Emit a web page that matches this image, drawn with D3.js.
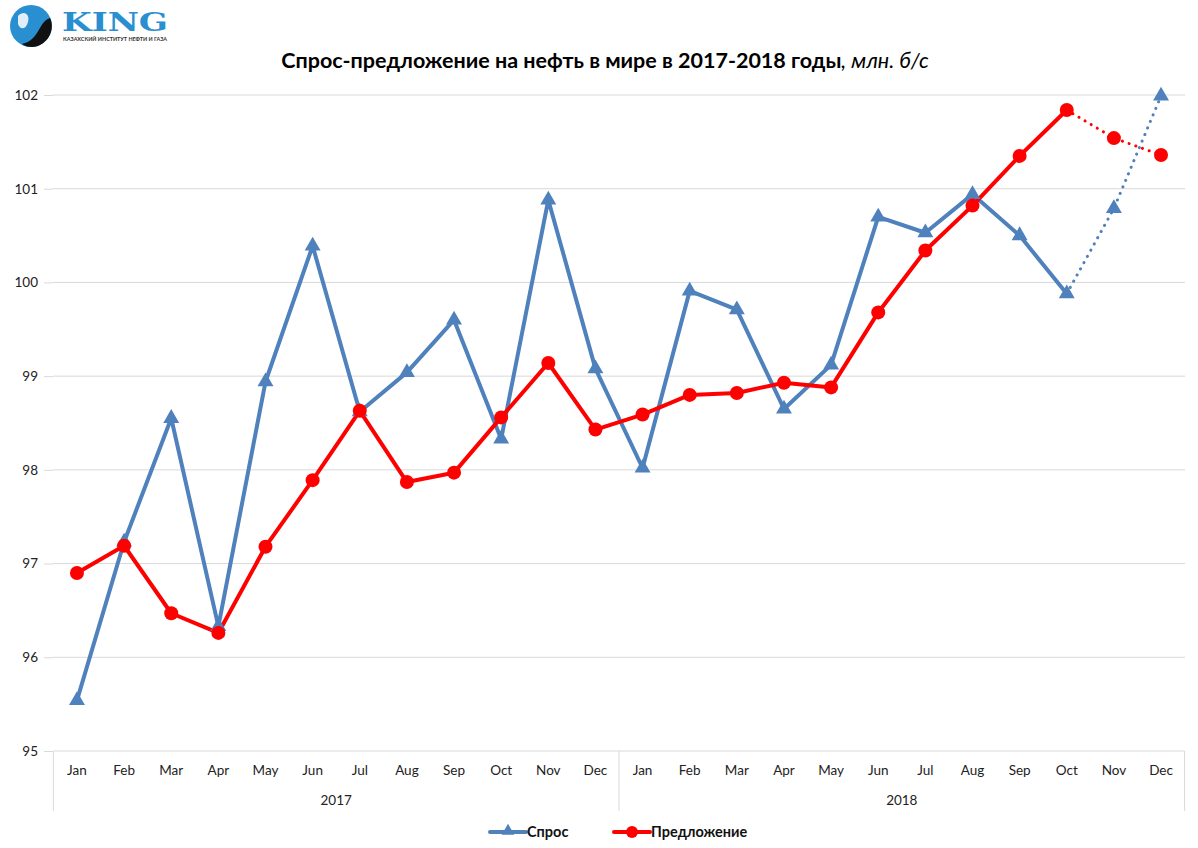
<!DOCTYPE html>
<html><head><meta charset="utf-8">
<script src="https://cdn.jsdelivr.net/npm/d3@7"></script>
<style>body{margin:0;background:#fff}svg{display:block;font-family:Lato,"Open Sans",sans-serif}</style>
</head><body>
<svg id="c" width="1198" height="848"></svg>
<script>
const months = ["Jan","Feb","Mar","Apr","May","Jun","Jul","Aug","Sep","Oct","Nov","Dec"];
const years = ["2017","2018"];
const demand = [95.54,97.23,98.55,96.33,98.94,100.39,98.62,99.04,99.60,98.33,100.88,99.08,
                98.02,99.91,99.71,98.65,99.12,100.70,100.53,100.94,100.50,99.88,100.79,101.99];
const supply = [96.90,97.19,96.47,96.26,97.18,97.89,98.63,97.87,97.97,98.56,99.14,98.43,
                98.59,98.80,98.82,98.93,98.88,99.68,100.34,100.82,101.35,101.84,101.54,101.36];
const forecastStart = 21; // Oct 2018 onward drawn dotted
const yTicks = [95,96,97,98,99,100,101,102];
const seriesNames = ["Спрос","Предложение"];

const svg = d3.select("#c");
const cats = [];
years.forEach(yr => months.forEach(m => cats.push(yr + "-" + m)));
const x = d3.scaleBand().domain(cats).range([53.4, 1184.6]);
const y = d3.scaleLinear().domain([95,102]).range([751,95]);
const cx = i => x(cats[i]) + x.bandwidth()/2;
const blue = "#4f81bd", red = "#ff0000";

// gridlines
svg.append("g").selectAll("line").data(yTicks.filter(t=>t>95)).join("line")
  .attr("x1",53).attr("x2",1185).attr("y1",d=>y(d)).attr("y2",d=>y(d))
  .attr("stroke","#d9d9d9").attr("stroke-width",1);
// y axis
const ya = svg.append("g").attr("transform","translate(53,0)")
  .call(d3.axisLeft(y).tickValues(yTicks).tickFormat(d3.format("d")).tickSize(9).tickPadding(6));
ya.select(".domain").remove();
ya.selectAll(".tick line").attr("stroke","#d9d9d9");
ya.selectAll(".tick text").attr("font-size",13.5).attr("fill","#222").attr("font-family","Lato,sans-serif");

// x axis
const xa = svg.append("g").attr("transform","translate(0,751)")
  .call(d3.axisBottom(x).tickSize(0).tickPadding(14).tickFormat(d=>d.split("-")[1]));
xa.select(".domain").attr("stroke","#d9d9d9").attr("d","M53.4,0H1184.6");
xa.selectAll(".tick text").attr("font-size",13.5).attr("fill","#222").attr("font-family","Lato,sans-serif");
// group dividers
const bounds = [0,12,24].map(i => i<24 ? x(cats[i]) : x(cats[23]) + x.bandwidth());
svg.append("g").selectAll("line").data(bounds).join("line")
  .attr("x1",d=>d).attr("x2",d=>d).attr("y1",751).attr("y2",811)
  .attr("stroke","#d9d9d9");
svg.append("g").selectAll("text").data(years).join("text")
  .attr("x",(d,i)=>(bounds[i]+bounds[i+1])/2).attr("y",805)
  .attr("text-anchor","middle").attr("font-size",13.5).attr("fill","#222").text(d=>d);

// lines
const line = d3.line().x(d=>cx(d.i)).y(d=>y(d.v));
function drawSeries(vals,color){
  const pts = vals.map((v,i)=>({i,v}));
  svg.append("path").datum(pts.slice(0,forecastStart+1)).attr("d",line)
    .attr("fill","none").attr("stroke",color).attr("stroke-width",4).attr("stroke-linejoin","round");
  svg.append("path").datum(pts.slice(forecastStart)).attr("d",line)
    .attr("fill","none").attr("stroke",color).attr("stroke-width",3)
    .attr("stroke-dasharray","0.1,7").attr("stroke-linecap","round");
  return pts;
}
const dPts = drawSeries(demand, blue);
const sPts = drawSeries(supply, red);
const tri = d3.symbol().type(d3.symbolTriangle).size(110);
svg.append("g").selectAll("path").data(dPts).join("path")
  .attr("d",tri).attr("transform",d=>`translate(${cx(d.i)},${y(d.v)})`).attr("fill",blue);
svg.append("g").selectAll("circle").data(sPts).join("circle")
  .attr("cx",d=>cx(d.i)).attr("cy",d=>y(d.v)).attr("r",7).attr("fill",red);

// title
const t = svg.append("text").attr("x",605).attr("y",68).attr("text-anchor","middle")
  .attr("font-size",21.5).attr("fill","#000");
t.append("tspan").attr("font-weight","bold").text("Спрос-предложение на нефть в мире в 2017-2018 годы");
t.append("tspan").attr("font-style","italic").text(", млн. б/с");

// legend
const lg = svg.append("g").attr("font-size",14.5).attr("font-weight","bold");
[[490,blue,"tri",seriesNames[0]],[614,red,"circ",seriesNames[1]]].forEach(([lx,col,m,name])=>{
  lg.append("line").attr("x1",lx).attr("x2",lx+36).attr("y1",832).attr("y2",832)
    .attr("stroke",col).attr("stroke-width",4).attr("stroke-linecap","round");
  if(m==="tri") lg.append("path").attr("d",d3.symbol().type(d3.symbolTriangle).size(70)())
    .attr("transform",`translate(${lx+18},831)`).attr("fill",col);
  else lg.append("circle").attr("cx",lx+18).attr("cy",832).attr("r",6).attr("fill",col);
  lg.append("text").attr("x",lx+37).attr("y",837).attr("fill","#111").text(name);
});

// logo
const logo = svg.append("g");
logo.append("circle").attr("cx",31).attr("cy",26).attr("r",21).attr("fill","#2a8fd0");
logo.append("path").attr("d","M22,44 C40,40 38,22 50,18 C54,26 52,40 38,46 C32,48 26,47 22,44Z").attr("fill","#111");
logo.append("path").attr("d","M18,16 C24,10 30,14 28,22 C26,30 20,30 18,24Z").attr("fill","#fff").attr("opacity",0.85);
logo.append("text").attr("x",62).attr("y",31).attr("font-size",26).attr("font-weight",900)
  .attr("fill","#2a8fd0").attr("font-family","'DejaVu Serif',serif")
  .attr("textLength",106).attr("lengthAdjust","spacingAndGlyphs").text("KING");
logo.append("text").attr("x",63).attr("y",41).attr("font-size",6).attr("font-weight","bold")
  .attr("fill","#333").attr("textLength",104).attr("lengthAdjust","spacingAndGlyphs").text("КАЗАХСКИЙ ИНСТИТУТ НЕФТИ И ГАЗА");
</script>
</body></html>
